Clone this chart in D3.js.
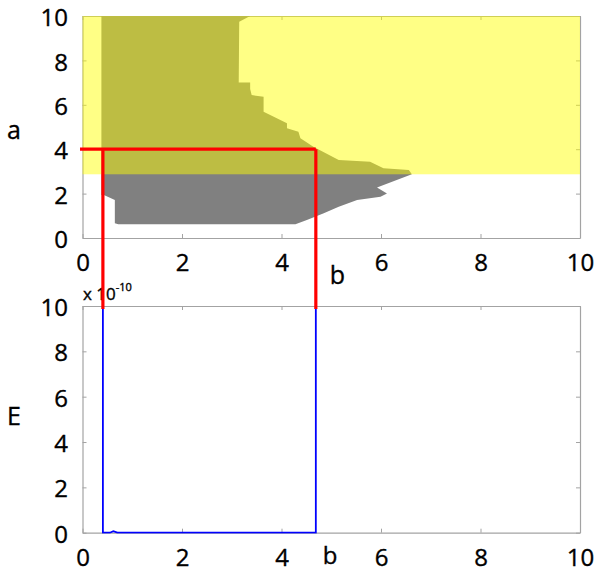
<!DOCTYPE html>
<html>
<head>
<meta charset="utf-8">
<script src="https://cdn.jsdelivr.net/npm/d3@7"></script>
<style>
  body { margin: 0; background: #fff; }
  svg { display: block; }
  text { font-family: "Open Sans", sans-serif; fill: #000; stroke: #000; stroke-width: 0.35px; }
</style>
</head>
<body>
<script>
// ---- data ----
const bTicks = [0, 2, 4, 6, 8, 10];
const aTicks = [0, 2, 4, 6, 8, 10];
const eTicks = [0, 2, 4, 6, 8, 10];

// boundary of the grey region in (b, a)
const regionB = [0.38, 3.37, 3.15, 3.14, 3.37, 3.37, 3.40, 3.64, 3.64, 4.11, 4.11, 4.34, 4.38, 4.64, 5.15, 5.78, 6.05, 6.56, 6.62,
                 5.92, 6.12, 5.99, 5.52, 5.15, 4.85, 4.51, 4.28, 0.72, 0.65, 0.65, 0.43, 0.38];
const regionA = [10, 10, 9.74, 7.00, 7.00, 6.71, 6.44, 6.36, 5.69, 5.17, 4.94, 4.79, 4.49, 4.11, 3.51, 3.44, 3.14, 3.06, 2.87,
                 2.27, 2.01, 1.86, 1.71, 1.41, 1.11, 0.81, 0.62, 0.62, 0.66, 1.71, 1.94, 1.94];

// yellow band (a range)
const bandA = [2.87, 10];

// selection: a = 4, b interval
const selA = 4;
const selStartB = -0.05;
const selB = [0.41, 4.69];

// E(b) curve, units of 1e-10
const curveB = [0.41, 0.41, 0.55, 0.62, 0.70, 4.69, 4.69];
const curveE = [10, 0, 0, 0.07, 0, 0, 10];

// ---- layout ----
const W = 598, H = 572;
const svg = d3.select("body").append("svg").attr("width", W).attr("height", H);

const x = d3.scaleLinear().domain([0, 10]).range([82.5, 580]);
const yA = d3.scaleLinear().domain([0, 10]).range([238, 16]);
const yE = d3.scaleLinear().domain([0, 10]).range([532.7, 306]);

const axisColor = "#a3a3a3";

function drawAxes(g, y, yTicks) {
  const x0 = x.range()[0], x1 = x.range()[1];
  const y0 = y.range()[0], y1 = y.range()[1];
  const style = sel => {
    sel.selectAll("path.domain").attr("stroke", axisColor).attr("stroke-width", 1.2);
    sel.selectAll(".tick line").attr("stroke", axisColor).attr("stroke-width", 1);
    sel.selectAll(".tick text").style("font-size", "24px").style("font-family", "'Open Sans', sans-serif")
      .attr("fill", "#000").attr("stroke", "#000").attr("stroke-width", 0.35);
  };
  g.append("g").attr("transform", `translate(0,${y0})`)
    .call(d3.axisBottom(x).tickValues(bTicks).tickFormat(d3.format("d")).tickSizeInner(-4).tickSizeOuter(0).tickPadding(16))
    .call(style);
  g.append("g").attr("transform", `translate(0,${y1})`)
    .call(d3.axisTop(x).tickValues(bTicks).tickFormat("").tickSizeInner(-4).tickSizeOuter(0))
    .call(style);
  const left = g.append("g").attr("transform", `translate(${x0},0)`)
    .call(d3.axisLeft(y).tickValues(yTicks).tickFormat(d3.format("d")).tickSizeInner(-4).tickSizeOuter(0).tickPadding(14.5))
    .call(style);
  left.selectAll(".tick text").attr("dy", "0.4em");
  g.append("g").attr("transform", `translate(${x1},0)`)
    .call(d3.axisRight(y).tickValues(yTicks).tickFormat("").tickSizeInner(-4).tickSizeOuter(0))
    .call(style);
}

// ---- top plot ----
const gTop = svg.append("g");
drawAxes(gTop, yA, aTicks);

const regionPts = regionB.map((b, i) => [x(b), yA(regionA[i])]);
gTop.append("path")
  .attr("d", d3.line()(regionPts) + "Z")
  .attr("fill", "#808080");

gTop.append("rect")
  .attr("x", x(0)).attr("width", x(10) - x(0))
  .attr("y", yA(bandA[1])).attr("height", yA(bandA[0]) - yA(bandA[1]))
  .attr("fill", "#ffff00").attr("fill-opacity", 0.48);

gTop.append("text").attr("x", 14).attr("y", 130).attr("dy", "0.35em")
  .attr("text-anchor", "middle").style("font-size", "25px").text("a");
gTop.append("text").attr("x", 337.5).attr("y", 284)
  .attr("text-anchor", "middle").style("font-size", "25px").text("b");

// ---- bottom plot ----
const gBot = svg.append("g");
drawAxes(gBot, yE, eTicks);

svg.append("defs").append("clipPath").attr("id", "clipE")
  .append("rect").attr("x", x(0)).attr("y", yE(10)).attr("width", x(10) - x(0)).attr("height", yE(0) - yE(10) + 1);

gBot.append("path")
  .attr("clip-path", "url(#clipE)")
  .attr("d", d3.line().x((b) => x(b)).y((b, i) => yE(curveE[i]))(curveB))
  .attr("fill", "none").attr("stroke", "#0000ff").attr("stroke-width", 1.8);

const mult = gBot.append("text").attr("x", 83).attr("y", 300).style("font-size", "17px").attr("stroke-width", 0.2);
mult.append("tspan").text("x 10");
mult.append("tspan").attr("dy", -9).style("font-size", "11px").text("-10");

gBot.append("text").attr("x", 14).attr("y", 416).attr("dy", "0.35em")
  .attr("text-anchor", "middle").style("font-size", "25px").text("E");
gBot.append("text").attr("x", 330).attr("y", 564)
  .attr("text-anchor", "middle").style("font-size", "24px").text("b");

// ---- red selection lines ----
const red = svg.append("g").attr("fill", "none").attr("stroke", "#ff0000").attr("stroke-width", 3.2);
red.append("path").attr("d", d3.line()([[x(selStartB), yA(selA)], [x(selB[1]), yA(selA)]]));
selB.forEach(b => {
  red.append("path").attr("d", d3.line()([[x(b), yA(selA)], [x(b), yE(10) + 3]]));
});
</script>
</body>
</html>
